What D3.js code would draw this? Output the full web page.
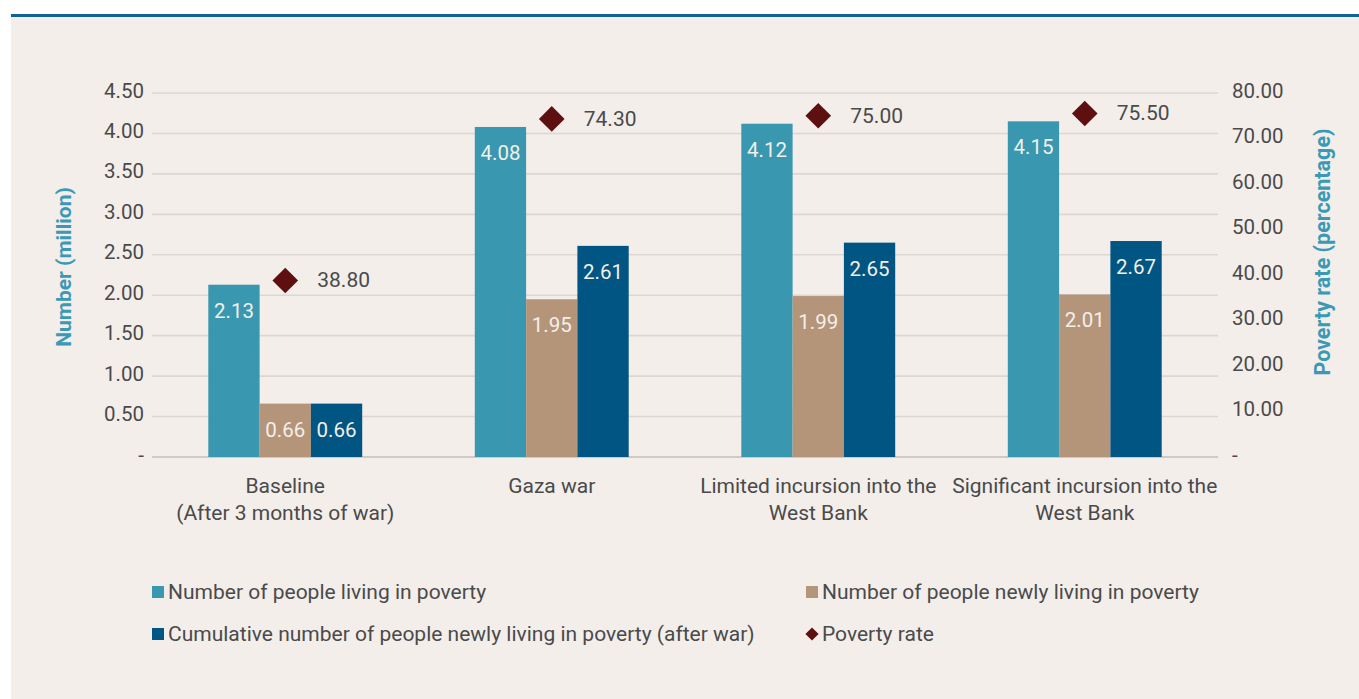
<!DOCTYPE html>
<html><head><meta charset="utf-8">
<script src="https://cdn.jsdelivr.net/npm/d3@7"></script>
<style>
html,body{margin:0;padding:0;background:#fff;}
svg{display:block;}
text{font-family:Roboto,"Noto Sans",sans-serif;}
</style></head>
<body>
<script>
const categories = [["Baseline","(After 3 months of war)"],["Gaza war"],["Limited incursion into the","West Bank"],["Significant incursion into the","West Bank"]];
const seriesNames = ["Number of people living in poverty","Number of people newly living in poverty","Cumulative number of people newly living in poverty (after war)"];
const povertyNumber = [2.13, 4.08, 4.12, 4.15];
const newlyPoor = [0.66, 1.95, 1.99, 2.01];
const cumulativeNewlyPoor = [0.66, 2.61, 2.65, 2.67];
const povertyRate = [38.80, 74.30, 75.00, 75.50];
const leftTicks = [0, 0.5, 1, 1.5, 2, 2.5, 3, 3.5, 4, 4.5];
const rightTicks = [0, 10, 20, 30, 40, 50, 60, 70, 80];
const colors = ["#3a97b0", "#b5957a", "#005582"];
const rateColor = "#5e1010";

const W = 1359, H = 699;
const svg = d3.select("body").append("svg").attr("width", W).attr("height", H);
svg.append("rect").attr("x",11).attr("y",16).attr("width",W-11).attr("height",H-16).attr("fill","#f3eeea");
svg.append("rect").attr("x",11).attr("y",14).attr("width",W-11).attr("height",3).attr("fill","#0d6494");

const x0 = 152, x1 = 1218, yTop = 93, yBot = 457;
const x = d3.scaleBand().domain(d3.range(categories.length)).range([x0, x1]);
const yL = d3.scaleLinear().domain([0, 4.5]).range([yBot, yTop]);
const yR = d3.scaleLinear().domain([0, 80]).range([yBot, yTop]);
const barW = 51.3;

// gridlines
svg.append("g").selectAll("line").data(leftTicks).join("line")
  .attr("x1", x0).attr("x2", x1).attr("y1", d=>yL(d)).attr("y2", d=>yL(d))
  .attr("stroke", d=> d===0 ? "#cfcac6" : "#dcd7d3").attr("stroke-width", d=> d===0?2:1.6);

const fmt2 = d3.format(".2f");
// left axis
const gL = svg.append("g").attr("transform",`translate(${x0},0)`)
  .call(d3.axisLeft(yL).tickValues(leftTicks).tickSize(0).tickPadding(8).tickFormat(d=> d===0?"-":fmt2(d)));
gL.select(".domain").remove();
gL.selectAll("text").attr("font-size",20.5).attr("fill","#4a4a4a").attr("font-family","Roboto").attr("dy","0.2em");

// right axis
const gR = svg.append("g").attr("transform",`translate(${x1},0)`)
  .call(d3.axisRight(yR).tickValues(rightTicks).tickSize(0).tickPadding(14).tickFormat(d=> d===0?"-":fmt2(d)));
gR.select(".domain").remove();
gR.selectAll("text").attr("font-size",20.5).attr("fill","#4a4a4a").attr("font-family","Roboto").attr("dy","0.2em");

// axis titles
svg.append("text").attr("transform","translate(71,267) rotate(-90)").attr("text-anchor","middle")
  .attr("font-size",21).attr("font-weight","bold").attr("fill","#3a9ab5").text("Number (million)");
svg.append("text").attr("transform","translate(1330,252) rotate(-90)").attr("text-anchor","middle")
  .attr("font-size",21.5).attr("font-weight","bold").attr("fill","#3a9ab5").text("Poverty rate (percentage)");

// bars
const series = [povertyNumber, newlyPoor, cumulativeNewlyPoor];
series.forEach((vals, s) => {
  const g = svg.append("g");
  vals.forEach((v, i) => {
    const cx = x(i) + x.bandwidth()/2;
    const bx = cx - 1.5*barW + s*barW;
    g.append("rect").attr("x", bx).attr("y", yL(v)).attr("width", barW).attr("height", yL(0)-yL(v)).attr("fill", colors[s]);
    g.append("text").attr("x", bx + barW/2).attr("y", yL(v) + 33).attr("text-anchor","middle")
      .attr("font-size",20.5).attr("fill","#f3efe9").text(fmt2(v));
  });
});

// poverty rate diamonds
const diamond = d3.symbol().type(d3.symbolDiamond2).size(420);
povertyRate.forEach((v, i) => {
  const cx = x(i) + x.bandwidth()/2;
  svg.append("path").attr("d", diamond).attr("transform",`translate(${cx},${yR(v)})`).attr("fill", rateColor);
  svg.append("text").attr("x", cx + 32).attr("y", yR(v) + 7).attr("font-size",21).attr("fill","#4a4a4a").text(fmt2(v));
});

// category labels
categories.forEach((lines, i) => {
  const cx = x(i) + x.bandwidth()/2;
  const t = svg.append("text").attr("text-anchor","middle").attr("font-size",21).attr("fill","#4a4a4a");
  lines.forEach((l, k) => t.append("tspan").attr("x", cx).attr("y", 493 + k*27).text(l));
});

// legend
const legend = [
  {type:"rect", color: colors[0], label: seriesNames[0], x:148, y:592},
  {type:"rect", color: colors[1], label: seriesNames[1], x:802, y:592},
  {type:"rect", color: colors[2], label: seriesNames[2], x:148, y:634},
  {type:"diamond", color: rateColor, label: "Poverty rate", x:802, y:634}
];
legend.forEach(d => {
  if (d.type === "rect") {
    svg.append("rect").attr("x", d.x+4).attr("y", d.y-6).attr("width",12).attr("height",12).attr("fill", d.color);
  } else {
    svg.append("path").attr("d", d3.symbol().type(d3.symbolDiamond2).size(110)).attr("transform",`translate(${d.x+10},${d.y})`).attr("fill", d.color);
  }
  svg.append("text").attr("x", d.x+20).attr("y", d.y+7).attr("font-size",21).attr("fill","#4a4a4a").text(d.label);
});
</script>
</body></html>
